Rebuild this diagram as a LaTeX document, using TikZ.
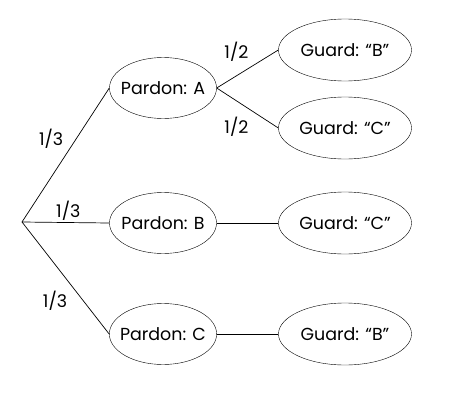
\documentclass[tikz,border=0pt]{standalone}
\usepackage{fontspec}
\setmainfont{Poppins}
\usepackage{tikz}
\usetikzlibrary{shapes}

\begin{document}
\begin{tikzpicture}[pardon/.style={draw,ellipse,inner xsep=-5bp,inner ysep=0pt,minimum width=107bp,minimum height=61bp,font=\fontsize{17.5}{20}\selectfont},
guard/.style={draw,ellipse,inner sep=0pt,minimum width=133bp,minimum height=62bp,font=\fontsize{17.5}{20}\selectfont},
prob/.style={font=\fontsize{17.5}{20}\selectfont}]
\useasboundingbox (0bp,0bp) rectangle (450bp,-400bp);
\coordinate (R) at (22bp,-222bp);
\node (PA) at (163bp,-88bp)[pardon] {Pardon: A};
\node (PB) at (163bp,-223bp)[pardon] {Pardon: B};
\node (PC) at (163bp,-334bp)[pardon] {Pardon: C};
\node (GAB) at (345bp,-50bp)[guard] {Guard: “B”};
\node (GAC) at (345bp,-128bp)[guard] {Guard: “C”};
\node (GBC) at (345bp,-223bp)[guard] {Guard: “C”};
\node (GCB) at (345bp,-334bp)[guard] {Guard: “B”};
\draw [line width=0.7pt] (R) to node[pos=0.62,xshift=-25bp,prob] {1/3} (PA.west);
\draw [line width=0.7pt] (R) to node[pos=0.53,yshift=12bp,prob] {1/3} (PB.west);
\draw [line width=0.7pt] (R) to node[pos=0.70,xshift=-28bp,prob] {1/3} (PC.west);
\draw [line width=0.7pt] (PA.east) to node[pos=0.32,yshift=24bp,prob] {1/2} (GAB.west);
\draw [line width=0.7pt] (PA.east) to node[pos=0.32,yshift=-26bp,prob] {1/2} (GAC.west);
\draw [line width=0.7pt] (PB.east) to (GBC.west);
\draw [line width=0.7pt] (PC.east) to (GCB.west);
\end{tikzpicture}
\end{document}
